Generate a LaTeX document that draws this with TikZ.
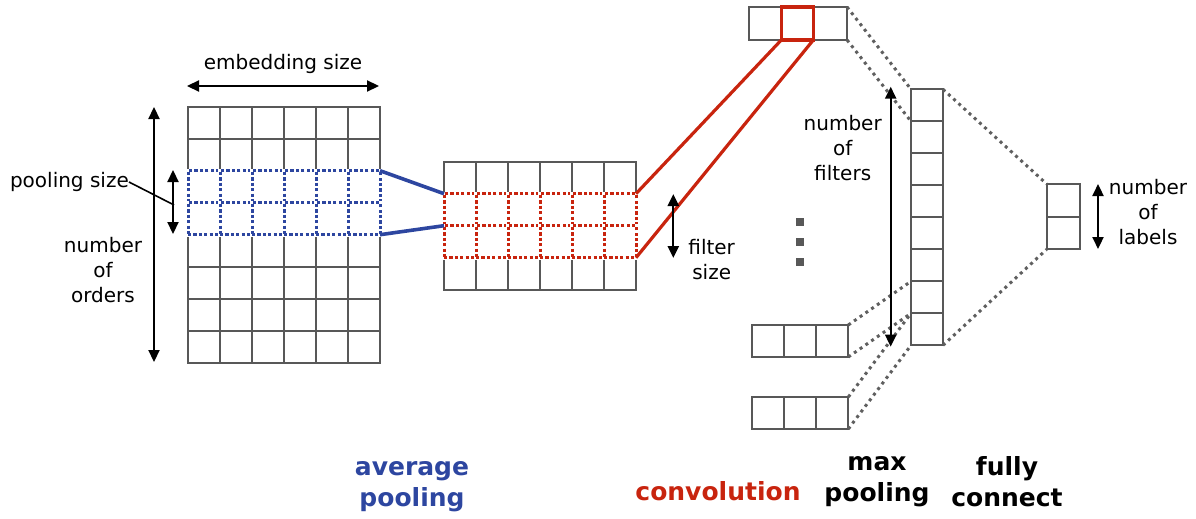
\documentclass[tikz,border=0pt]{standalone}
\usepackage{fontspec}
\setmainfont{DejaVu Sans}
\usetikzlibrary{arrows.meta}
\definecolor{gridgray}{RGB}{88,88,88}
\definecolor{dotgray}{RGB}{95,95,95}
\definecolor{poolblue}{RGB}{45,70,160}
\definecolor{convred}{RGB}{200,36,14}
\tikzset{
  cell/.style={draw=gridgray, line width=2pt, minimum width=32pt, minimum height=32pt, inner sep=0pt, outer sep=0pt},
  wincell/.style={preaction={draw=white, solid, line width=3.6pt}, line width=3pt, dash pattern=on 3.2pt off 2.2pt, minimum width=32pt, minimum height=32pt, inner sep=0pt, outer sep=0pt},
  bluecell/.style={wincell, draw=poolblue},
  redcell/.style={wincell, draw=convred},
  bluelink/.style={draw=poolblue, line width=3.6pt},
  redlink/.style={draw=convred, line width=3.2pt},
  fclink/.style={draw=dotgray, line width=3pt, dash pattern=on 3pt off 4pt},
  dimarrow/.style={draw=black, line width=2.2pt, {Triangle[length=12pt,width=11pt]}-{Triangle[length=12pt,width=11pt]}},
  lbl/.style={font=\fontsize{20}{25}\selectfont, align=center, inner sep=0pt},
  title/.style={font=\fontsize{25}{31}\selectfont\bfseries, align=center, inner sep=0pt},
  dotsq/.style={fill=gridgray, minimum size=8pt, inner sep=0pt},
}
\begin{document}
\begin{tikzpicture}[x=1pt,y=-1pt]
\useasboundingbox (0,0) rectangle (1196,519);

% input matrix: 8 orders x 6 embedding dims
\foreach \r in {0,...,7}
  \foreach \c in {0,...,5}
    \node[cell] (L-\r-\c) at ({204+32*\c},{122.7+32*\r}) {};
% pooling window
\foreach \r in {2,3}
  \foreach \c in {0,...,5}
    \node[bluecell] (LB-\r-\c) at ({204+32*\c},{122.7+32*\r}) {};

% pooled matrix: 4 x 6
\foreach \r in {0,...,3}
  \foreach \c in {0,...,5}
    \node[cell] (M-\r-\c) at ({460+32*\c},{177.7+32*\r}) {};
% convolution window
\foreach \r in {1,2}
  \foreach \c in {0,...,5}
    \node[redcell] (MR-\r-\c) at ({460+32*\c},{177.7+32*\r}) {};

% feature maps
\foreach \c in {0,1,2} {
  \node[cell, minimum width=32.7pt, minimum height=33pt] (T-\c) at ({765.3+32.7*\c},23.5) {};
  \node[cell, minimum width=32.2pt] (B1-\c) at ({767.8+32.2*\c},341) {};
  \node[cell, minimum width=32.2pt] (B2-\c) at ({767.8+32.2*\c},413) {};
}
\node[draw=convred, line width=3.6pt, minimum width=32pt, minimum height=33pt, inner sep=0pt, outer sep=0pt] (TR) at (797.3,23.5) {};

% ellipsis between feature maps
\node[dotsq] (d1) at (800,221.7) {};
\node[dotsq] (d2) at (800,241.7) {};
\node[dotsq] (d3) at (800,261.7) {};

% max pooling vector
\foreach \r in {0,...,7}
  \node[cell] (P-\r) at (927,{105.3+32*\r}) {};

% output vector
\node[cell, minimum width=33.3pt, minimum height=32.7pt] (F-0) at (1063.3,200.3) {};
\node[cell, minimum width=33.3pt, minimum height=32.7pt] (F-1) at (1063.3,233) {};

% average pooling links
\draw[bluelink] (LB-2-5.north east) -- (MR-1-0.north west);
\draw[bluelink] (LB-3-5.south east) -- (MR-1-0.south west);

% convolution links
\draw[redlink] (MR-1-5.north east) -- (TR.south west);
\draw[redlink] (MR-2-5.south east) -- (TR.south east);

% max pooling links
\draw[fclink] (T-2.north east) -- (P-0.north west);
\draw[fclink] (T-2.south east) -- (P-0.south west);
\draw[fclink] (B1-2.north east) -- (P-6.north west);
\draw[fclink] (B1-2.south east) -- (P-6.south west);
\draw[fclink] (B2-2.north east) -- (P-7.north west);
\draw[fclink] (B2-2.south east) -- (P-7.south west);

% fully connected links
\draw[fclink] (P-0.north east) -- (F-0.north west);
\draw[fclink] (P-7.south east) -- (F-1.south west);

% dimension arrows
\coordinate (emb-l) at (187,86);
\coordinate (emb-r) at (379,86);
\coordinate (ord-t) at (154,107);
\coordinate (ord-b) at (154,362);
\coordinate (pool-t) at (173,170);
\coordinate (pool-b) at (173,234);
\coordinate (filt-t) at (673.3,194);
\coordinate (filt-b) at (673.3,258);
\coordinate (nf-t) at (890.7,86.7);
\coordinate (nf-b) at (890.7,346.7);
\coordinate (nl-t) at (1098,184);
\coordinate (nl-b) at (1098,249);
\draw[dimarrow] (emb-l) -- (emb-r);
\draw[dimarrow] (ord-t) -- (ord-b);
\draw[dimarrow] (pool-t) -- (pool-b);
\draw[dimarrow] (filt-t) -- (filt-b);
\draw[dimarrow] (nf-t) -- (nf-b);
\draw[dimarrow] (nl-t) -- (nl-b);

% labels
\node[lbl] (t-emb) at (283,64) {embedding size};
\node[lbl, anchor=east] (t-pool) at (129,182) {pooling size};
\coordinate (pool-m) at (174,205);
\draw[black, line width=1.6pt] (t-pool.east) -- (pool-m);
\node[lbl] (t-ord) at (103,270) {number\\of\\orders};
\node[lbl] (t-filt) at (711.7,260) {filter\\size};
\node[lbl] (t-nf) at (842.7,148.5) {number\\of\\filters};
\node[lbl] (t-nl) at (1148,212) {number\\of\\labels};

\node[title, text=poolblue] (t-avg) at (412,487) {average\\pooling};
\node[title, text=convred] (t-conv) at (718,491) {convolution};
\node[title] (t-max) at (877,482) {max\\pooling};
\node[title] (t-fc) at (1007,482) {fully\\connect};
\end{tikzpicture}
\end{document}
